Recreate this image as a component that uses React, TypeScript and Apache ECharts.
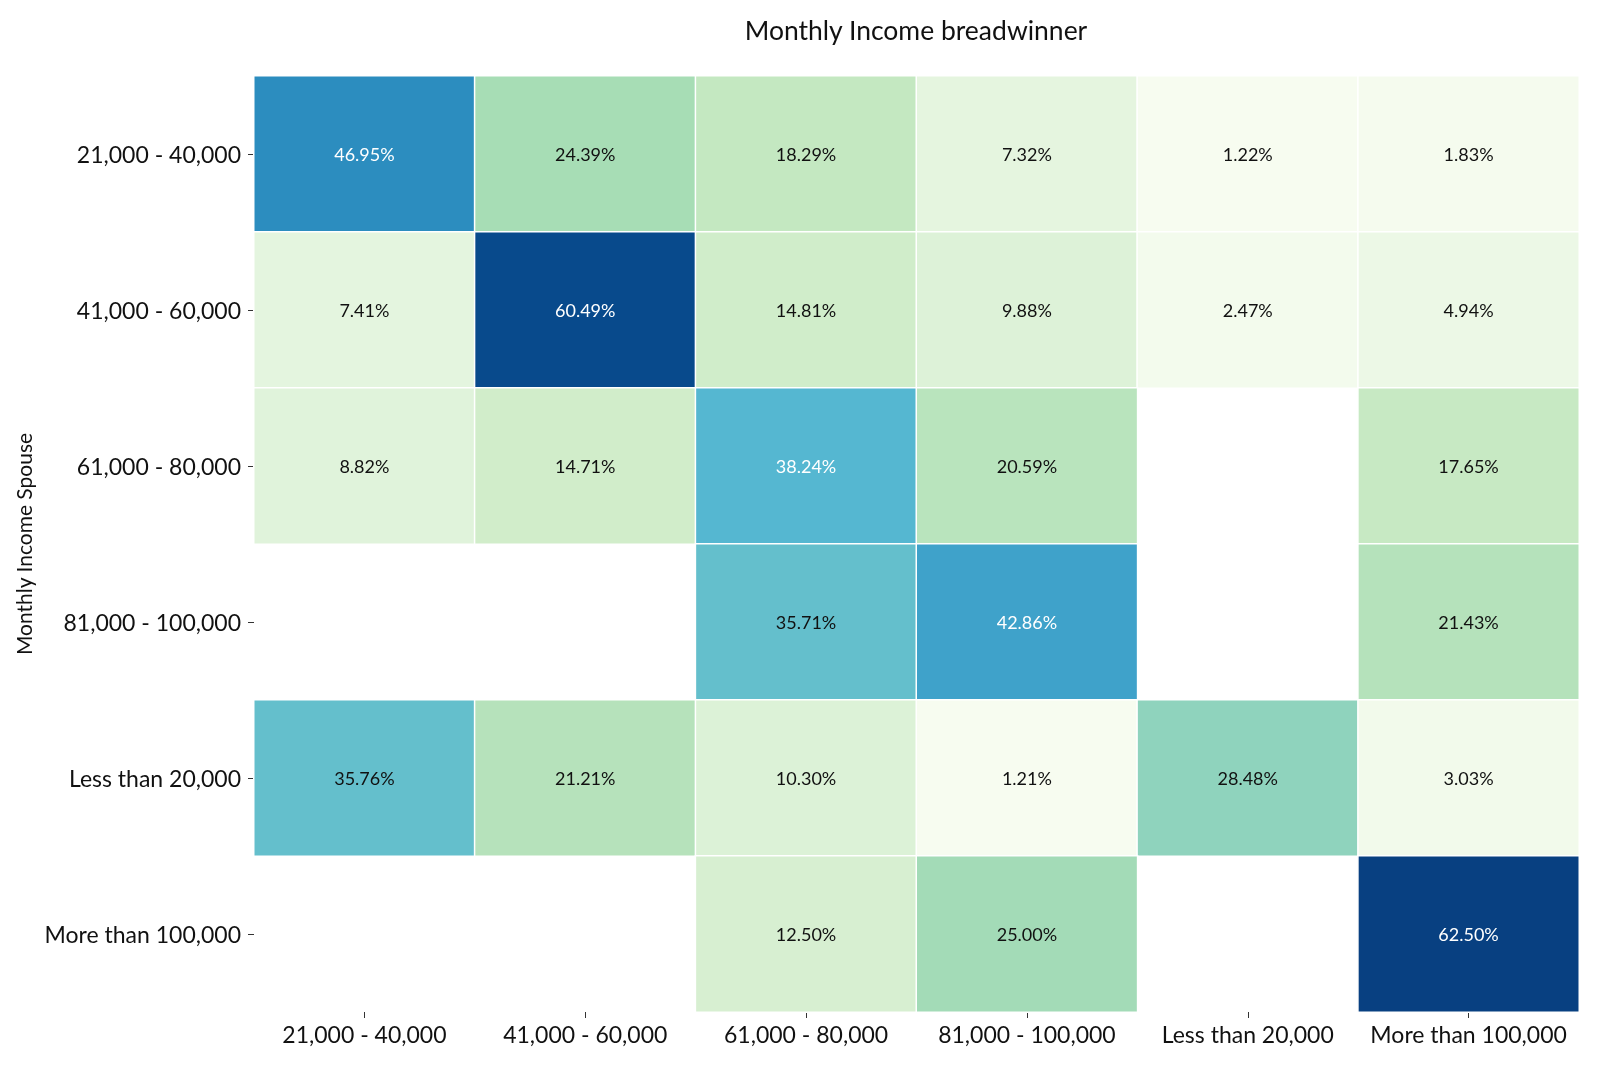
import React, { useEffect, useRef } from "react";
import * as echarts from "echarts";

const xCategories = ["21,000 - 40,000", "41,000 - 60,000", "61,000 - 80,000", "81,000 - 100,000", "Less than 20,000", "More than 100,000"];
const yCategories = ["21,000 - 40,000", "41,000 - 60,000", "61,000 - 80,000", "81,000 - 100,000", "Less than 20,000", "More than 100,000"];

const row2140 = [46.95, 24.39, 18.29, 7.32, 1.22, 1.83];
const row4160 = [7.41, 60.49, 14.81, 9.88, 2.47, 4.94];
const row6180 = [8.82, 14.71, 38.24, 20.59, null, 17.65];
const row81100 = [null, null, 35.71, 42.86, null, 21.43];
const rowLess20 = [35.76, 21.21, 10.3, 1.21, 28.48, 3.03];
const rowMore100 = [null, null, 12.5, 25.0, null, 62.5];

const rows = [row2140, row4160, row6180, row81100, rowLess20, rowMore100];

const gnbu = ["#f7fcf0", "#e0f3db", "#ccebc5", "#a8ddb5", "#7bccc4", "#4eb3d3", "#2b8cbe", "#0868ac", "#084081"];

const FONT = "Lato, 'Open Sans', sans-serif";

export default function App() {
  const ref = useRef<HTMLDivElement>(null);
  useEffect(() => {
    if (!ref.current) return;
    const chart = echarts.init(ref.current, null, { renderer: "svg" });
    const data: any[] = [];
    let mn = Infinity, mx = -Infinity;
    rows.forEach((r) => r.forEach((v) => {
      if (v === null) return;
      mn = Math.min(mn, v); mx = Math.max(mx, v);
    }));
    rows.forEach((r, yi) => r.forEach((v, xi) => {
      if (v === null) return;
      const frac = (v - mn) / (mx - mn);
      data.push({ value: [xi, yi, v], label: { color: frac > 0.58 ? "#ffffff" : "#111111" } });
    }));
    const option: any = {
      animation: false,
      textStyle: { fontFamily: FONT },
      grid: { left: 254, right: 21, top: 76, bottom: 55 },
      graphic: [{
        type: "text", x: 916, y: 30,
        style: { text: "Monthly Income breadwinner", fontSize: 26.5, fontFamily: FONT, fill: "#111", align: "center", verticalAlign: "middle" },
      }],
      xAxis: {
        type: "category", data: xCategories, position: "bottom",
        axisLine: { show: false },
        axisTick: { show: true, alignWithLabel: true, length: 6, lineStyle: { color: "#333" } },
        axisLabel: { fontSize: 23, color: "#111", margin: 10, interval: 0, fontFamily: FONT },
        splitArea: { show: false },
      },
      yAxis: {
        type: "category", data: yCategories, inverse: true,
        name: "Monthly Income Spouse", nameLocation: "middle", nameRotate: 90, nameGap: 210,
        nameTextStyle: { fontSize: 21, color: "#111", fontFamily: FONT },
        axisLine: { show: false },
        axisTick: { show: true, alignWithLabel: true, length: 6, lineStyle: { color: "#333" } },
        axisLabel: { fontSize: 23, color: "#111", margin: 13, interval: 0, fontFamily: FONT },
        splitArea: { show: false },
      },
      visualMap: { show: false, type: "continuous", min: mn, max: mx, dimension: 2, inRange: { color: gnbu } },
      series: [{
        type: "heatmap", data,
        label: { show: true, fontSize: 18, fontFamily: FONT, formatter: (p: any) => p.value[2].toFixed(2) + "%" },
        itemStyle: { borderColor: "#ffffff", borderWidth: 1.5 },
        emphasis: { disabled: true },
      }],
    };
    chart.setOption(option);
    return () => chart.dispose();
  }, []);
  return <div ref={ref} style={{ position: "fixed", left: 0, top: 0, width: 1600, height: 1067 }} />;
}
